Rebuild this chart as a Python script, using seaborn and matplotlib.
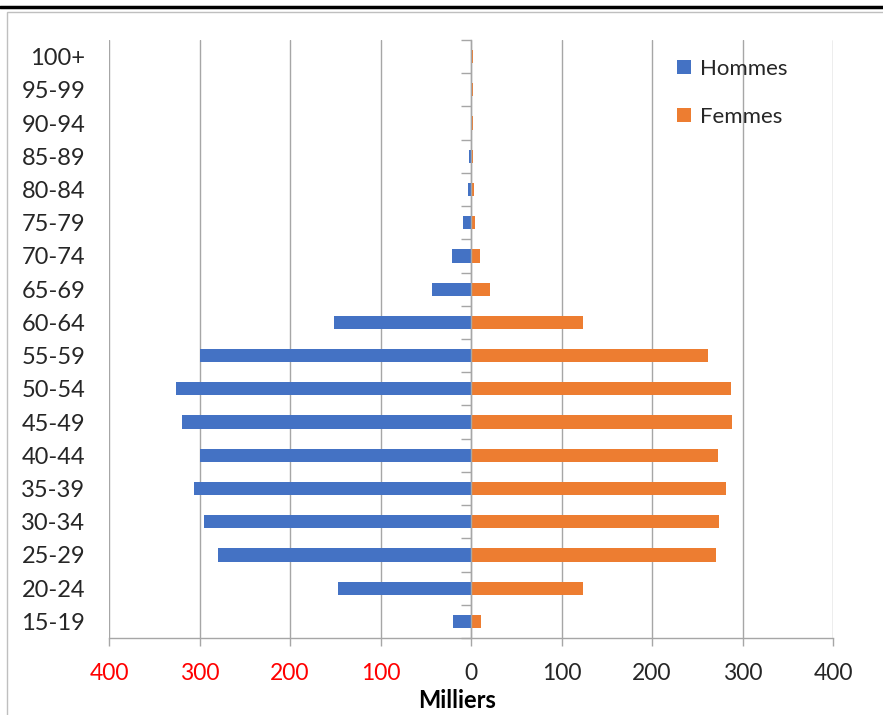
import matplotlib
matplotlib.use("Agg")
import matplotlib.pyplot as plt
import seaborn as sns
import pandas as pd
from matplotlib.patches import Rectangle, Patch
from matplotlib.lines import Line2D

# ---------------- data ----------------
ages = ["100+", "95-99", "90-94", "85-89", "80-84", "75-79", "70-74", "65-69",
        "60-64", "55-59", "50-54", "45-49", "40-44", "35-39", "30-34", "25-29",
        "20-24", "15-19"]
hommes = [0.3, 0.5, 0.5, 2, 3.5, 9, 21, 43, 151, 300, 326, 319, 300, 306, 295, 280, 147, 20]
femmes = [2, 2, 2, 2.5, 3, 4, 10, 21, 124, 262, 287, 288, 273, 282, 274, 271, 124, 11]
series = ["Hommes", "Femmes"]
xticks = [-400, -300, -200, -100, 0, 100, 200, 300, 400]
xtick_labels = ["400", "300", "200", "100", "0", "100", "200", "300", "400"]

df = pd.DataFrame({
    "age": ages * 2,
    "value": [-v for v in hommes] + femmes,
    "sexe": [series[0]] * len(ages) + [series[1]] * len(ages),
})

colors = {"Hommes": "#4472C4", "Femmes": "#ED7D31"}
grid_c = "#A6A6A6"

sns.set_theme(style="white")
plt.rcParams["font.family"] = ["Lato", "DejaVu Sans"]

fig = plt.figure(figsize=(8.83, 7.15), dpi=100)
ax = fig.add_axes([109 / 883, 1 - 638 / 715, (833 - 109) / 883, (638 - 40) / 715])

sns.barplot(data=df, x="value", y="age", hue="sexe", order=ages,
            hue_order=series, palette=colors, orient="h", dodge=False,
            width=0.4, legend=False, ax=ax, saturation=1)
for p in ax.patches:
    p.set_edgecolor("none")

ax.set_xlim(-400, 400)
ax.set_ylim(len(ages) - 0.5, -0.5)
ax.set_xticks(xticks)
ax.set_xticklabels(xtick_labels)
for lbl, v in zip(ax.get_xticklabels(), xticks):
    lbl.set_color("#FF0000" if v < 0 else "#262626")
ax.tick_params(axis="x", direction="out", length=6, width=1, color=grid_c,
               pad=12, labelsize=16.5, bottom=True)
ax.tick_params(axis="y", length=0, pad=17, labelsize=17, labelcolor="#262626")
ax.set_xlabel("")
ax.set_ylabel("")

ax.grid(axis="x", color=grid_c, linewidth=1.0)
ax.grid(axis="y", visible=False)
ax.set_axisbelow(True)
for s in ["top", "right", "left"]:
    ax.spines[s].set_visible(False)
ax.spines["bottom"].set_color(grid_c)
ax.spines["bottom"].set_linewidth(1.0)

# category axis at x = 0
sec = ax.secondary_yaxis(0.5)
sec.set_alignment("left")
sec.set_yticks([i - 0.5 for i in range(len(ages) + 1)])
sec.set_yticklabels([])
sec.tick_params(axis="y", direction="out", length=7, width=1, color=grid_c,
                left=True, right=False)
for s in sec.spines.values():
    s.set_color(grid_c)
    s.set_linewidth(1.0)
sec.set_zorder(3)

handles = [Patch(facecolor=colors[s], edgecolor="none") for s in series]
ax.legend(handles, series, loc="upper left", bbox_to_anchor=(0.785, 0.968),
          frameon=False, fontsize=16, handlelength=0.6, handleheight=0.6,
          handletextpad=0.4, labelspacing=1.25, borderpad=0, borderaxespad=0,
          labelcolor="#262626")

fig.text(457 / 883, 1 - 701 / 715, "Milliers", ha="center", va="center",
         fontsize=17, fontweight="bold", color="#000000")

# chart frame and top clipped underline
fig.patches.append(Rectangle((7 / 883, -0.01), 1.0, 1 - 12 / 715 + 0.01,
                             transform=fig.transFigure, fill=False,
                             edgecolor="#BFBFBF", linewidth=1.0))
fig.lines.append(Line2D([0, 1], [1 - 7 / 715, 1 - 7 / 715],
                        transform=fig.transFigure, color="black", linewidth=2.5))

fig.savefig("out.png", dpi=100)
